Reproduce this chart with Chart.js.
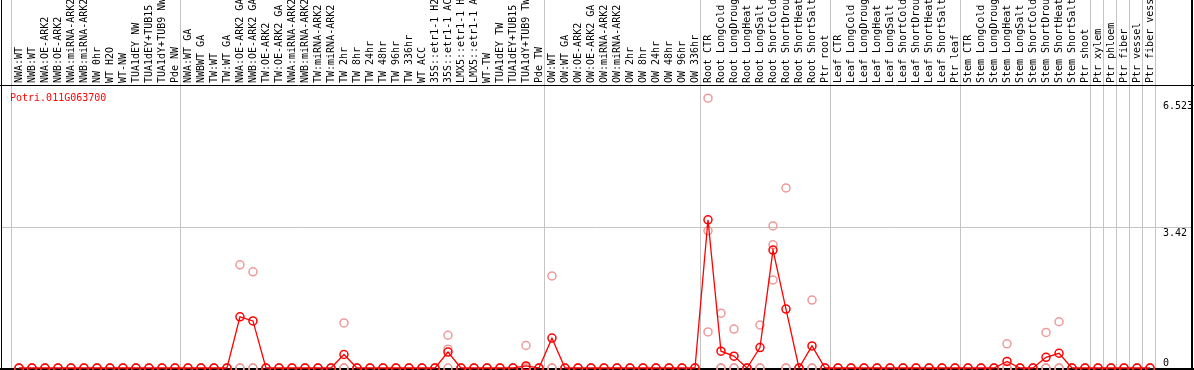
<!DOCTYPE html>
<html>
<head>
<meta charset="utf-8">
<script src="https://cdn.jsdelivr.net/npm/chart.js@4.4.1/dist/chart.umd.min.js"></script>
<style>
  html, body { margin: 0; padding: 0; background: #fff; overflow: hidden; }
  canvas { display: block; }
</style>
</head>
<body>
<canvas id="myChart" width="1194" height="370"></canvas>
<script>
const geneName = "Potri.011G063700";

// sample names, as they show on the top axis
const samples = [
  "NWA:WT", "NWB:WT", "NWA:OE-ARK2", "NWB:OE-ARK2", "NWA:miRNA-ARK2", "NWB:miRNA-ARK2",
  "NW 0hr", "WT H2O", "WT-NW", "TUA1dEY NW", "TUA1dEY+TUB15", "TUA1dY+TUB9 NW", "Pde NW",
  "NWA:WT GA", "NWBWT GA", "TW:WT", "TW:WT GA", "NWA:OE-ARK2 GA", "NWB:OE-ARK2 GA",
  "TW:OE-ARK2", "TW:OE-ARK2 GA", "NWA:miRNA-ARK2", "NWB:miRNA-ARK2", "TW:miRNA-ARK2", "TW:miRNA-ARK2",
  "TW 2hr", "TW 8hr", "TW 24hr", "TW 48hr", "TW 96hr", "TW 336hr", "WT ACC",
  "35S::etr1-1 H2", "35S::etr1-1 AC", "LMX5::etr1-1 H", "LMX5::etr1-1 A",
  "WT-TW", "TUA1dEY TW", "TUA1dEY+TUB15", "TUA1dY+TUB9 TW", "Pde TW",
  "OW:WT", "OW:WT GA", "OW:OE-ARK2", "OW:OE-ARK2 GA", "OW:miRNA-ARK2", "OW:miRNA-ARK2",
  "OW 2hr", "OW 8hr", "OW 24hr", "OW 48hr", "OW 96hr", "OW 336hr",
  "Root CTR", "Root LongCold", "Root LongDroug", "Root LongHeat", "Root LongSalt",
  "Root ShortCold", "Root ShortDrou", "Root ShortHeat", "Root ShortSalt", "Ptr root",
  "Leaf CTR", "Leaf LongCold", "Leaf LongDroug", "Leaf LongHeat", "Leaf LongSalt",
  "Leaf ShortCold", "Leaf ShortDrou", "Leaf ShortHeat", "Leaf ShortSalt", "Ptr leaf",
  "Stem CTR", "Stem LongCold", "Stem LongDroug", "Stem LongHeat", "Stem LongSalt",
  "Stem ShortCold", "Stem ShortDrou", "Stem ShortHeat", "Stem ShortSalt", "Ptr shoot",
  "Ptr xylem", "Ptr phloem", "Ptr fiber", "Ptr vessel", "Ptr fiber vess"
];

const groupSizes = [13, 28, 12, 10, 10, 10, 1, 1, 1, 1, 1];

const yTickLabels = [0, 3.42, 6.523];

// mean expression per sample
const meanValues = [
  0, 0, 0, 0, 0, 0, 0, 0, 0, 0, 0, 0, 0,
  0, 0, 0, 0, 1.25, 1.15, 0, 0, 0, 0, 0, 0, 0.33, 0, 0, 0, 0, 0, 0, 0, 0.39, 0, 0, 0, 0, 0, 0.05, 0,
  0.73, 0, 0, 0, 0, 0, 0, 0, 0, 0, 0, 0,
  3.62, 0.41, 0.29, 0, 0.50, 2.88, 1.44, 0, 0.54, 0,
  0, 0, 0, 0, 0, 0, 0, 0, 0, 0,
  0, 0, 0, 0.16, 0, 0, 0.26, 0.36, 0, 0,
  0, 0, 0, 0, 0
];

// replicates
const rep1 = [
  0, 0, 0, 0, 0, 0, 0, 0, 0, 0, 0, 0, 0,
  0, 0, 0, 0, 2.52, 2.35, 0, 0, 0, 0, 0, 0, 1.10, 0, 0, 0, 0, 0, 0, 0, 0.80, 0, 0, 0, 0, 0, 0.55, 0,
  2.25, 0, 0, 0, 0, 0, 0, 0, 0, 0, 0, 0,
  6.59, 1.34, 0.95, 0, 1.05, 3.47, 4.40, 0, 1.66, 0,
  0, 0, 0, 0, 0, 0, 0, 0, 0, 0,
  0, 0, 0, 0.59, 0, 0, 0.87, 1.13, 0, 0,
  0, 0, 0, 0, 0
];
const rep2 = [
  0, 0, 0, 0, 0, 0, 0, 0, 0, 0, 0, 0, 0,
  0, 0, 0, 0, 0, 0, 0, 0, 0, 0, 0, 0, 0, 0, 0, 0, 0, 0, 0, 0, 0.46, 0, 0, 0, 0, 0, 0, 0,
  0, 0, 0, 0, 0, 0, 0, 0, 0, 0, 0, 0,
  3.35, 0, 0, 0, 0, 3.01, 0, 0, 0, 0,
  0, 0, 0, 0, 0, 0, 0, 0, 0, 0,
  0, 0, 0, 0, 0, 0, 0, 0, 0, 0,
  0, 0, 0, 0, 0
];
const rep3 = [
  0, 0, 0, 0, 0, 0, 0, 0, 0, 0, 0, 0, 0,
  0, 0, 0, 0, 0, 0, 0, 0, 0, 0, 0, 0, 0, 0, 0, 0, 0, 0, 0, 0, 0, 0, 0, 0, 0, 0, 0, 0,
  0, 0, 0, 0, 0, 0, 0, 0, 0, 0, 0, 0,
  0.88, 0, 0, 0, 0, 2.15, 0, 0, 0, 0,
  0, 0, 0, 0, 0, 0, 0, 0, 0, 0,
  0, 0, 0, 0, 0, 0, 0, 0, 0, 0,
  0, 0, 0, 0, 0
];

// separator positions between sample groups
const groupBounds = [-0.6];
groupSizes.reduce((acc, n) => {
  groupBounds.push(acc + n - 0.6);
  return acc + n;
}, 0);

const meanPoints = meanValues.map((v, i) => ({ x: i, y: v }));
const repPoints = [];
[rep1, rep2, rep3].forEach((rep) => {
  rep.forEach((v, i) => repPoints.push({ x: i, y: v }));
});

Chart.defaults.font.family = "'DejaVu Sans Mono', monospace";
Chart.defaults.font.size = 10;
Chart.defaults.color = "#000";

function noPadding(scale) {
  scale.paddingLeft = 0;
  scale.paddingRight = 0;
  scale.paddingTop = 0;
  scale.paddingBottom = 0;
}

const overlay = {
  id: "overlay",
  beforeDatasetsDraw(chart) {
    const { ctx, chartArea } = chart;
    ctx.save();
    ctx.strokeStyle = "#000";
    ctx.lineWidth = 1;
    ctx.beginPath();
    ctx.moveTo(chartArea.left + 0.5, 0);
    ctx.lineTo(chartArea.left + 0.5, chartArea.bottom);
    ctx.moveTo(0, chartArea.top + 0.5);
    ctx.lineTo(chart.width, chartArea.top + 0.5);
    ctx.stroke();
    ctx.lineWidth = 2;
    ctx.beginPath();
    ctx.moveTo(chartArea.right, 0);
    ctx.lineTo(chartArea.right, chartArea.bottom);
    ctx.moveTo(0, chartArea.bottom + 1);
    ctx.lineTo(chart.width, chartArea.bottom + 1);
    ctx.stroke();

    const yScale = chart.scales.y;
    ctx.font = "10px 'DejaVu Sans Mono'";
    ctx.textAlign = "left";
    ctx.textBaseline = "alphabetic";
    ctx.fillStyle = "#000";
    yTickLabels.forEach((v) => {
      const y = yScale.getPixelForValue(v);
      ctx.fillText(String(v), chartArea.right - 29, v === 0 ? y - 2 : y + 8.5);
    });

    ctx.fillStyle = "#ff0000";
    ctx.fillText(geneName, chartArea.left + 9, chartArea.top + 16);
    ctx.restore();
  }
};

const ctx = document.getElementById("myChart");

const config = {
  type: "line",
  data: {
    datasets: [
      {
        label: "mean",
        data: meanPoints,
        borderColor: "#ff0000",
        borderWidth: 1.3,
        pointRadius: 4,
        pointBorderWidth: 1.5,
        pointBorderColor: "#ff0000",
        pointBackgroundColor: "rgba(0,0,0,0)",
        tension: 0,
        clip: false,
        order: 1,
      },
      {
        label: "replicates",
        data: repPoints,
        showLine: false,
        pointRadius: 4,
        pointBorderWidth: 1.5,
        pointBorderColor: "#ef9a9a",
        pointBackgroundColor: "rgba(0,0,0,0)",
        clip: false,
        order: 2,
      },
    ],
  },
  options: {
    responsive: false,
    animation: false,
    devicePixelRatio: 1,
    layout: { autoPadding: false, padding: { left: 1, right: 2, top: 0, bottom: 2 } },
    plugins: { legend: { display: false }, tooltip: { enabled: false } },
    scales: {
      x: {
        type: "linear",
        position: "top",
        weight: 10,
        min: -1.38,
        max: 90.23,
        bounds: "data",
        grid: { display: false },
        border: { display: false },
        ticks: {
          autoSkip: false,
          minRotation: 90,
          maxRotation: 90,
          padding: -6,
          labelOffset: 12,
          callback: (v) => samples[v],
        },
        afterBuildTicks: (scale) => {
          scale.ticks = samples.map((s, i) => ({ value: i }));
        },
        afterFit: (scale) => {
          scale.height = 85;
          noPadding(scale);
        },
      },
      xg: {
        type: "linear",
        position: "top",
        weight: 0,
        min: -1.38,
        max: 90.23,
        bounds: "data",
        grid: { color: "#c4c4c4", lineWidth: 1, drawTicks: true, tickLength: 85 },
        border: { display: false },
        ticks: { display: false },
        afterBuildTicks: (scale) => {
          scale.ticks = groupBounds.map((v) => ({ value: v }));
        },
        afterFit: (scale) => {
          scale.height = 0;
          noPadding(scale);
        },
      },
      y: {
        type: "linear",
        position: "right",
        min: 0,
        max: 6.913,
        bounds: "data",
        grid: { color: "#c4c4c4", lineWidth: 1, drawTicks: false },
        border: { display: false },
        ticks: { display: false },
        afterBuildTicks: (scale) => {
          scale.ticks = [{ value: 3.42 }];
        },
        afterFit: (scale) => {
          scale.width = 0;
          noPadding(scale);
        },
      },
    },
  },
  plugins: [overlay],
};

const myChart = new Chart(ctx, config);
</script>
</body>
</html>
